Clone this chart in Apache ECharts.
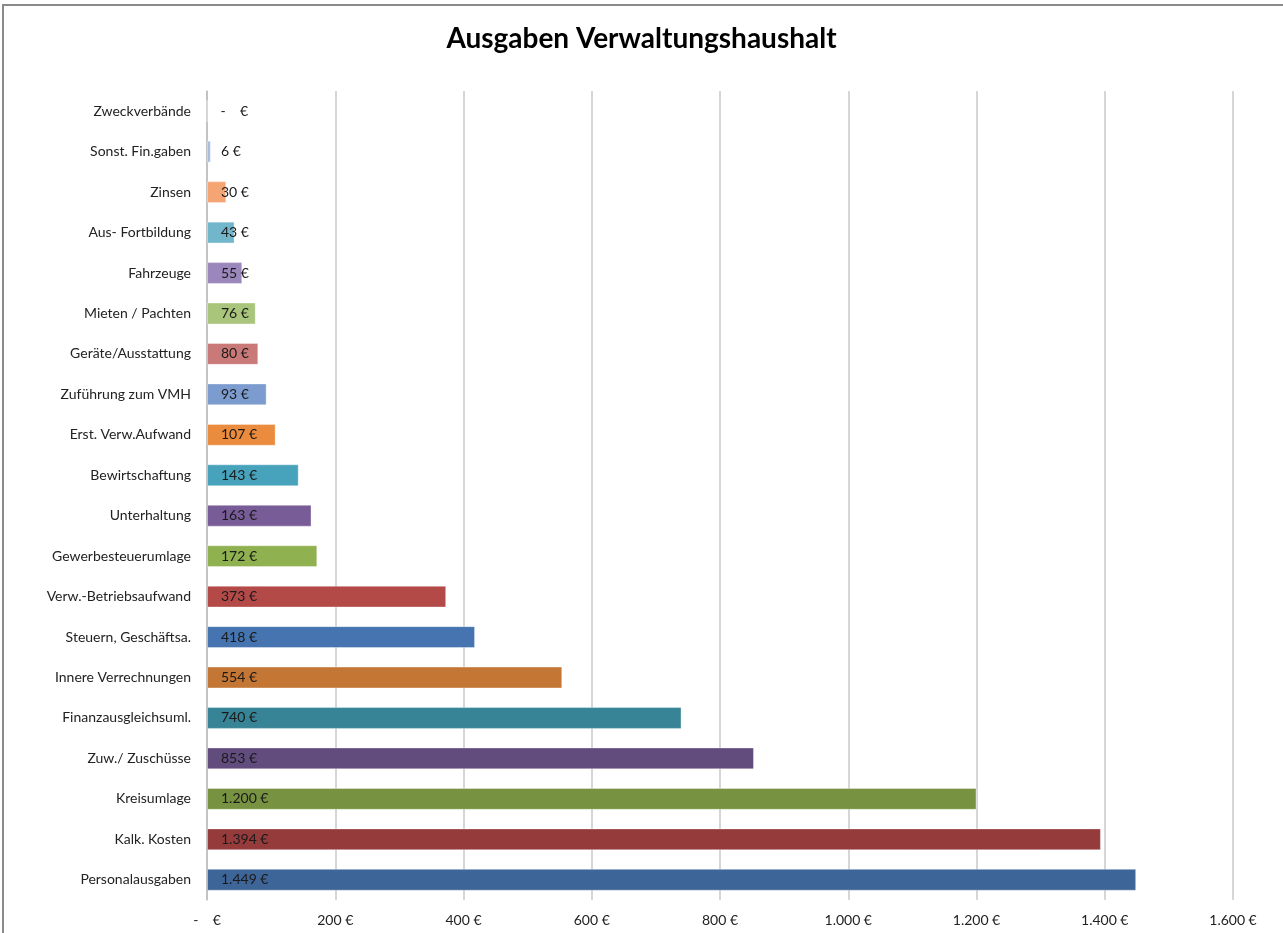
<!DOCTYPE html>
<html>
<head>
<meta charset="utf-8">
<title>Ausgaben Verwaltungshaushalt</title>
<script src="https://cdn.jsdelivr.net/npm/echarts@6/dist/echarts.min.js"></script>
<style>
  html, body { margin: 0; padding: 0; background: #fff; }
  #chart { position: absolute; left: 0; top: 0; width: 1283px; height: 933px; }
  #frame { position: absolute; left: 2px; top: 4px; width: 1300px; height: 1000px;
           border-top: 2px solid #8a8a8a; border-left: 2px solid #8a8a8a; pointer-events: none; }
</style>
</head>
<body>
<div id="chart"></div>
<div id="frame"></div>
<script>
// Kategorien von oben nach unten
const categories = [
  'Zweckverbände', 'Sonst. Fin.gaben', 'Zinsen', 'Aus- Fortbildung', 'Fahrzeuge',
  'Mieten / Pachten', 'Geräte/Ausstattung', 'Zuführung zum VMH', 'Erst. Verw.Aufwand',
  'Bewirtschaftung', 'Unterhaltung', 'Gewerbesteuerumlage', 'Verw.-Betriebsaufwand',
  'Steuern, Geschäftsa.', 'Innere Verrechnungen', 'Finanzausgleichsuml.',
  'Zuw./ Zuschüsse', 'Kreisumlage', 'Kalk. Kosten', 'Personalausgaben'
]
const values = [0, 6, 30, 43, 55, 76, 80, 93, 107, 143, 163, 172, 373, 418, 554, 740, 853, 1200, 1394, 1449]
const barColors = [
  '#a9bce0', '#a9bce0', '#f5a573', '#72b6cc', '#9b87bc',
  '#a9c57c', '#c97a78', '#7c9ccf', '#ea8b3d',
  '#47a2bc', '#785c98', '#8fb150', '#b34a48',
  '#4674b0', '#c47635', '#388497',
  '#624c7e', '#779240', '#953b3b', '#3e6598'
]
const xTicks = { min: 0, max: 1600, interval: 200 }

const fontFamily = 'Lato, "Open Sans", sans-serif'

// Zahl im deutschen Format, 0 als "-   €"
const euro = (v) => {
  if (v === 0) return '-    €'
  return String(v).replace(/\B(?=(\d{3})+(?!\d))/g, '.') + ' €'
}

const chart = echarts.init(document.getElementById('chart'))

const option = {
  animation: false,
  title: {
    text: 'Ausgaben Verwaltungshaushalt',
    left: 'center',
    top: 20,
    textStyle: { fontFamily, fontSize: 28, fontWeight: 'bold', color: '#000' }
  },
  grid: { left: 207, right: 50, top: 91, bottom: 33, containLabel: false },
  xAxis: {
    type: 'value',
    min: xTicks.min,
    max: xTicks.max,
    interval: xTicks.interval,
    axisLine: { show: false },
    axisTick: { show: false },
    axisLabel: {
      formatter: euro,
      fontFamily,
      fontSize: 14,
      color: '#222',
      margin: 13
    },
    splitLine: { show: true, lineStyle: { color: '#c8c8c8', width: 1.5 } }
  },
  yAxis: {
    type: 'category',
    data: categories,
    inverse: true,
    axisLine: { show: true, lineStyle: { color: '#bdbdbd', width: 1.5 } },
    axisTick: { show: false },
    axisLabel: { fontFamily, fontSize: 14, color: '#222', margin: 16 }
  },
  series: [{
    type: 'bar',
    barWidth: '54%',
    data: values.map((v, i) => ({
      value: v,
      itemStyle: { color: barColors[i], borderColor: 'rgba(255,255,255,0.35)', borderWidth: 1 }
    })),
    label: {
      show: true,
      position: 'insideLeft',
      distance: 14,
      formatter: (p) => euro(p.value),
      fontFamily,
      fontSize: 14,
      color: '#1a1a1a'
    }
  }]
}

chart.setOption(option)
</script>
</body>
</html>
